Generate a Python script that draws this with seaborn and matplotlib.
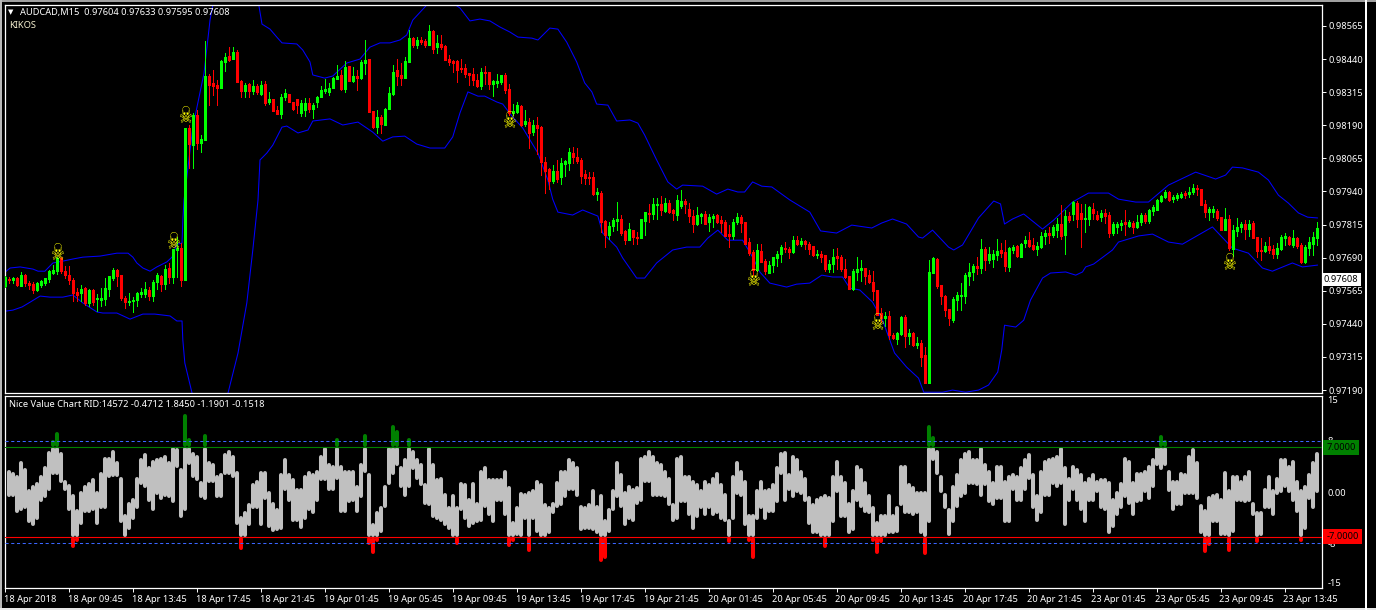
import numpy as np
import pandas as pd
import matplotlib
matplotlib.use('Agg')
import matplotlib.pyplot as plt
import matplotlib.transforms as mtrans
from matplotlib.font_manager import FontProperties
from matplotlib.patches import Rectangle
from matplotlib.path import Path
from matplotlib.textpath import TextPath
import seaborn as sns

# Prices are kept in points above 0.97000 (604 means 0.97604)
wick_high = [620,617,617,617,635,628,601,597,597,605,
613,643,662,692,692,658,658,613,575,586,
579,571,571,553,575,613,620,651,647,624,
545,557,541,560,575,597,579,605,632,624,
662,670,723,768,745,1180,1191,1236,1248,1153,
1508,1384,1399,1361,1436,1463,1485,1485,1474,1361,
1350,1350,1361,1346,1357,1357,1316,1289,1263,1308,
1327,1308,1278,1289,1285,1293,1293,1274,1300,1338,
1365,1350,1372,1418,1399,1433,1414,1410,1399,1436,
1512,1440,1244,1248,1229,1255,1334,1418,1440,1425,
1448,1550,1523,1523,1523,1516,1569,1550,1531,1531,
1493,1455,1436,1436,1440,1421,1387,1406,1384,1406,
1414,1391,1361,1384,1380,1387,1346,1270,1278,1266,
1248,1217,1210,1221,1187,1070,1029,1040,1059,1066,
1059,1104,1108,1104,1066,1021,1013,1013,953,942,
832,825,840,900,851,794,821,794,787,836,
862,893,915,915,923,915,908,874,926,945,
911,896,870,881,858,866,855,855,855,847,
832,813,836,858,851,825,764,719,741,741,
685,677,692,715,738,749,730,772,772,764,
756,749,734,719,715,700,681,723,726,700,
685,620,647,692,681,651,643,639,568,500,
485,488,405,409,470,473,420,409,390,379,
353,681,692,689,586,549,496,541,560,594,
632,670,666,692,760,730,730,719,760,745,
756,730,738,738,745,772,787,764,749,787,
794,806,813,840,889,870,862,904,904,893,
893,885,896,866,870,874,862,825,825,832,
870,832,828,851,858,858,874,889,911,926,
945,942,926,934,938,942,957,968,964,949,
908,881,885,874,843,877,851,813,840,825,
832,832,828,768,764,749,768,738,745,775,
783,772,794,768,745,738,768,787,825]

body_top = [617,609,613,613,624,624,594,590,594,601,
613,639,643,689,689,639,624,605,560,571,
575,568,568,537,537,575,620,643,643,624,
537,526,530,557,560,571,568,597,624,620,
647,651,723,726,726,1180,1180,1229,1229,1138,
1376,1376,1350,1342,1433,1448,1451,1467,1467,1357,
1342,1346,1338,1338,1342,1346,1289,1289,1248,1297,
1312,1308,1278,1289,1274,1274,1274,1266,1297,1323,
1327,1331,1368,1376,1380,1410,1414,1376,1376,1429,
1436,1440,1244,1221,1221,1251,1312,1391,1399,1380,
1433,1520,1520,1512,1512,1508,1546,1546,1501,1497,
1489,1440,1433,1433,1406,1406,1387,1384,1361,1391,
1391,1391,1357,1357,1380,1380,1327,1244,1266,1263,
1206,1202,1191,1191,1183,1051,1025,1017,1017,1047,
1055,1089,1085,1070,1059,1006,994,994,938,934,
828,809,832,836,836,790,798,794,768,836,
862,858,893,893,893,896,896,870,908,904,
904,874,847,851,855,855,843,847,851,832,
825,779,825,843,843,825,749,711,719,715,
677,662,692,704,730,726,723,756,756,753,
753,741,734,704,704,700,666,692,696,692,
647,620,639,647,651,651,624,597,568,481,
470,470,398,405,466,466,405,405,368,368,
322,636,689,685,586,545,496,534,549,549,
624,636,658,658,723,723,704,704,715,719,
711,726,730,734,741,756,756,738,734,772,
783,783,806,817,817,847,847,900,896,858,
840,881,874,851,858,858,851,817,817,821,
825,825,821,825,851,851,870,881,908,923,
938,938,919,926,930,934,938,953,953,949,
893,874,874,866,843,836,836,794,806,817,
817,817,821,768,719,734,734,723,726,768,
772,768,764,764,738,730,749,768,802]

body_bottom = [582,605,605,586,582,594,586,568,568,586,
594,609,632,639,639,624,605,557,549,557,
519,519,522,534,530,534,571,613,620,537,
522,522,526,530,553,553,545,545,597,590,
590,617,617,719,605,605,1119,1115,1123,1123,
1134,1342,1338,1331,1331,1429,1436,1440,1353,1319,
1319,1319,1319,1316,1308,1274,1278,1244,1232,1232,
1297,1278,1251,1266,1236,1248,1251,1251,1278,1297,
1319,1316,1331,1365,1327,1327,1357,1357,1368,1368,
1425,1240,1183,1183,1195,1191,1251,1308,1376,1368,
1368,1429,1493,1493,1504,1493,1493,1478,1485,1485,
1436,1429,1425,1399,1402,1384,1380,1361,1338,1338,
1387,1346,1346,1350,1353,1323,1236,1236,1240,1191,
1195,1161,1165,1180,1051,1017,979,979,987,994,
1044,1047,1070,1055,998,991,991,930,930,825,
775,775,809,828,783,756,756,768,764,764,
828,855,855,889,870,866,862,858,851,885,
893,847,817,817,847,817,825,840,825,821,
772,772,772,825,821,741,707,643,643,674,
639,632,662,689,704,723,711,711,741,741,
741,723,700,700,692,647,647,666,689,647,
617,571,571,635,643,620,597,564,473,462,
462,398,387,383,402,394,394,360,360,315,
216,216,632,582,545,492,462,454,530,545,
545,620,636,651,651,681,681,685,700,707,
658,655,719,696,692,745,734,723,723,730,
772,775,775,794,772,775,832,855,836,836,
836,836,858,836,843,847,783,783,806,813,
817,809,806,806,825,828,828,866,870,904,
919,908,911,915,919,926,930,938,949,889,
862,862,862,840,794,794,726,723,790,806,
798,798,764,715,715,715,719,704,704,723,
764,741,738,734,674,674,726,741,764]

wick_low = [579,594,594,582,582,582,571,557,564,579,
586,597,628,628,632,613,590,526,526,526,
511,507,511,488,507,511,545,605,582,530,
500,511,485,507,541,541,530,526,571,564,
571,594,594,617,582,605,1029,1029,1100,1089,
1134,1266,1304,1266,1331,1395,1433,1440,1353,1297,
1297,1297,1308,1308,1304,1266,1270,1244,1232,1217,
1285,1278,1248,1236,1225,1225,1240,1217,1259,1297,
1312,1304,1331,1365,1323,1316,1357,1353,1323,1365,
1384,1240,1180,1161,1161,1191,1251,1304,1342,1342,
1368,1429,1485,1482,1497,1485,1493,1463,1463,1478,
1436,1418,1391,1353,1391,1372,1342,1342,1334,1327,
1346,1327,1300,1334,1346,1312,1229,1229,1236,1187,
1187,1104,1153,1081,1002,934,949,972,976,968,
998,1021,1047,1047,972,968,968,926,908,787,
730,760,790,794,775,741,756,741,741,764,
775,825,836,836,851,862,858,832,832,877,
858,825,787,813,821,817,790,806,821,787,
772,730,760,817,787,741,700,624,639,674,
628,632,635,658,674,711,689,707,738,734,
723,704,696,689,674,639,635,635,647,639,
613,571,568,605,601,590,594,530,473,447,
432,383,383,364,398,353,364,356,349,281,
216,216,632,575,515,470,436,447,492,492,
519,586,605,628,632,643,670,655,681,692,
639,639,707,692,692,730,730,719,700,726,
741,745,768,768,760,704,825,832,806,730,
787,813,836,832,828,821,768,775,783,794,
775,806,783,802,813,821,821,851,870,900,
915,904,900,908,915,915,919,930,926,889,
843,832,843,832,794,794,719,696,772,787,
760,772,764,692,681,711,707,689,689,719,
738,738,730,726,670,670,700,700,738]

# G = bullish candle, R = bearish candle
candle_dir = ("GRGRGRRRGG" "GGGGRRRRRG" "RGRGGGGGRR" "RGGGGGRGGR"
              "GRGGRGRGRG" "GRRRGGRGRR" "GRGRGRGRRG" "GRRRGGRGGG"
              "GGGGRGRGRG" "GRRGRGGGRR" "GGRGRRGRGR" "RRRRRRRRRG"
              "RRGGGRRGGR" "GRGRRRRGRG" "GGRRRRRRGR" "RGGGRRGRRG"
              "GRGGRGRRGG" "RRRGGRGGRR" "RRGGRRRRGR" "RGGGGRRGRG"
              "RRRGRRGGRR" "RRGGGRRRRR" "GRRGGRGRGR" "RGGRRRRGGG"
              "GGGRGRGGGR" "RGGRGGRRGG" "GRGGRGRGRR" "GGRRGRRGGG"
              "RGRGGRGGGG" "GRGGGRGGRR" "RGGRRGRGGG" "RGRRRGRRGG"
              "GRGRRGGGG")

upper_bar = [0,1.2,3.7,6.9,8.2,9.9,11.9,14.4,16.9,19.4,23.7,27.9,30.7,31.9,32.9,34.4,36.2,37.9,40.4,41.7,
42.9,44.2,44.4,44.7,45.7,46.9,49.7,51.2,51.9,57.7,63.4,64.2,66.2,67.9,69.2,72.9,74.4,76.2,76.9,79.9,
81.9,85.4,88.7,91.2,93.7,96.2,98.7,100.4,101.9,105.4,109.9,113.7,116.2,118.7,121.2,123.7,126.2,128.2,131.7,133.2,
136.2,138.2,140.4,142.9,144.9,146.7,147.9,150.7,152.9,156.2,158.2,159.9,162.9,165.7,167.9,169.4,174.4,177.9,180.7,183.2,
184.9,186.9,189.2,191.7,196.2,201.2,203.9,207.9,211.7,216.7,219.2,221.9,225.4,228.4,229.4,231.9,235.9,237.2,239.4,243.4,
247.2,248.9,249.9,251.9,254.7,259.4,262.2,266.9,270.9,275.9,278.4,282.7,285.9,290.9,297.7,302.7,305.2,306.9,309.4,313.4,
315.9,318.4,320.9,323.4,325.7,328.2]
upper_band = [636,651,655,647,639,639,670,677,685,692,696,707,707,692,670,651,639,655,674,692,
741,745,832,908,1032,1183,1387,1587,1644,1814,1644,1572,1553,1523,1501,1497,1474,1429,1380,1368,
1376,1425,1440,1485,1501,1501,1512,1531,1587,1644,1671,1633,1584,1591,1584,1561,1542,1523,1519,1512,
1557,1553,1504,1429,1350,1316,1270,1266,1206,1210,1198,1153,1059,976,949,964,960,930,949,938,
938,976,960,957,908,862,791,783,813,802,821,836,817,768,764,794,730,719,738,840,
904,893,817,836,855,798,832,900,934,934,911,900,900,964,1013,987,1002,1032,1029,1013,
983,926,896,859,843,840]

lower_bar = [0,1.9,4.2,6.2,8.7,11.2,14.4,16.9,19.4,22.9,24.4,27.9,31.2,34.4,37.4,41.2,42.9,44.2,44.4,44.9,
46.7,51.2,55.7,58.2,60.4,61.9,63.2,63.7,65.4,66.9,69.2,70.4,73.2,75.7,76.9,81.2,84.4,88.2,91.9,94.4,
96.9,99.9,102.9,106.2,109.9,111.9,113.7,115.7,118.2,119.9,122.9,124.4,126.9,129.4,133.2,135.7,136.9,138.2,141.9,144.4,
148.2,149.4,152.9,154.4,157.9,159.9,162.9,166.9,170.4,173.7,175.7,178.2,180.7,184.4,186.9,188.7,191.2,195.4,197.9,201.2,
204.2,206.9,209.4,211.2,213.7,216.9,219.4,222.4,225.4,228.4,229.7,234.4,236.9,240.2,243.4,245.9,248.2,249.2,249.9,252.7,
254.7,256.4,259.4,261.4,265.2,267.7,269.4,270.2,272.2,276.9,278.4,283.4,286.9,290.9,294.4,301.9,306.9,310.9,314.4,316.9,
321.9,324.4,328.2]
lower_band = [488,492,504,522,545,541,541,549,519,485,481,481,458,477,477,470,451,451,379,292,
179,77,179,330,519,719,908,1059,1085,1115,1183,1187,1161,1172,1206,1214,1191,1202,1164,1130,
1146,1149,1119,1104,1104,1146,1236,1316,1300,1300,1278,1270,1221,1180,1085,983,911,862,851,870,
847,783,730,689,613,613,670,719,730,730,764,794,756,756,692,636,594,579,590,594,
624,617,617,575,568,522,454,330,277,235,182,182,190,182,190,209,258,341,435,428,
454,530,613,632,636,624,636,655,666,719,749,772,779,749,741,806,726,707,651,639,
670,655,662]

skull_bar = [13,42,45,126,187,218,306]
skull_price = [715,756,1232,1214,617,451,677]

# Nice Value Chart, starts at bar 1
value_high = [3.5,3.1,2.7,4.9,3.7,0.4,1.1,1.6,2.7,4.0,
6.4,8.1,9.3,6.2,1.8,1.2,-0.4,-2.7,0.1,1.1,
1.6,2.2,0.1,3.1,5.5,5.5,6.6,4.9,2.4,-3.5,
-1.5,-0.9,2.4,5.3,6.1,4.0,5.0,5.3,5.5,5.8,
4.8,7.4,6.8,3.7,12.1,8.5,6.3,5.8,1.7,9.0,
4.8,4.5,2.7,3.0,6.1,6.6,5.8,3.2,-3.8,-3.0,
-1.7,1.4,1.9,3.2,3.2,0.1,-1.5,-2.5,3.0,5.3,
3.0,2.2,0.6,0.6,2.7,3.2,3.0,3.5,5.8,7.0,
4.5,4.2,8.4,4.2,3.5,3.5,3.5,1.1,4.5,9.0,
3.0,-4.8,-3.0,-2.2,1.1,7.6,10.5,9.7,4.0,5.3,
8.5,6.6,5.3,4.5,1.4,7.4,4.5,2.2,2.4,-0.2,
-2.2,-0.4,-2.2,
1.6,1.4,-0.9,1.6,-1.5,3.5,4.0,2.2,2.2,2.2,2.2,3.5,0.9,-4.6,-2.2,0,
-0.2,0.1,0.4,1.9,1.4,-1.7,-2.2,-1.5,1.7,3.5,3.5,5.3,4.8,4.0,-2.0,-2.2,
-1.7,0.4,-2.0,-0.4,-4.3,-2.5,0.4,4.8,3.0,0.1,1.1,0.6,0.9,5.5,5.8,6.6,
5.8,4.8,4.5,3.5,2.4,-1.7,5.5,5.8,2.7,2.7,1.9,1.4,0.4,1.9,1.4,2.4,
3.1,1.4,-0.2,-4.3,2.7,4.8,3.5,1.9,-3.5,-3.5,0.4,1.9,0.4,0.6,1.4,4.0,
6.2,6.4,3.0,5.8,5.3,3.5,2.4,-0.7,-1.7,-0.9,-0.7,-0.4,-0.7,2.7,5.0,2.7,
1.7,-1.5,0.4,4.2,3.7,1.7,-0.4,-2.2,-4.6,-3.5,-3.5,-0.4,-3.5,-2.2,4.2,4.2,
1.4,0.9,0.1,
0.1,0.1,10.4,8.7,6.6,2.7,-0.2,-2.5,1.1,3.0,5.3,6.3,6.6,5.3,5.3,7.4,
4.5,3.5,1.7,4.2,4.2,1.9,2.7,3.0,2.7,4.0,5.3,6.1,3.0,-0.4,3.5,5.0,
5.3,5.5,5.8,7.4,4.0,2.4,4.2,3.7,3.0,1.7,2.4,3.0,1.9,2.2,2.2,1.7,
-0.9,0.1,1.6,5.5,5.0,1.7,3.1,3.1,3.5,4.2,5.3,7.6,8.9,8.1,3.5,1.9,
1.9,3.1,3.0,5.8,6.8,4.8,-1.9,-2.7,-0.7,-0.4,-0.2,-0.9,3.2,0.4,2.7,2.7,
1.9,2.7,3.5,-1.5,-3.0,-3.0,0.6,2.7,0.4,2.4,5.3,5.3,4.2,5.0,1.9,0.4,
1.1,3.0,4.8,6.2]

value_low = [-0.7,-0.7,-3.3,-3.0,-2.7,-4.8,-5.3,-4.3,-1.5,-0.9,
0.1,2.7,2.7,1.4,0.1,-3.0,-8.7,-7.8,-5.1,-3.3,
-3.3,-3.0,-5.1,-2.7,-2.7,2.2,2.4,2.4,-4.8,-7.7,
-5.9,-4.3,-2.7,1.1,0.6,-1.5,-3.0,-0.4,-1.2,-0.7,
-0.9,-1.7,3.7,-4.0,-3.0,4.2,2.2,1.7,-0.9,-1.2,
1.4,1.4,-0.9,-0.9,2.7,2.7,2.2,-5.1,-9.0,-7.5,
-5.3,-2.7,-2.7,-5.3,-1.2,-5.6,-6.2,-6.1,-5.9,0.1,
-1.5,-4.6,-4.6,-5.8,-4.3,-3.0,-3.5,-1.5,1.7,1.7,
0.1,0.1,1.9,-3.3,-3.3,-1.7,-1.5,-3.3,-0.9,3.0,
-8.2,-9.6,-7.8,-6.4,-2.5,1.1,2.7,4.0,0.6,-0.7,
0.6,3.5,1.9,0.9,-2.0,-2.2,-4.0,-4.3,-4.6,-5.3,
-5.9,-7.5,-8.3,
-3.0,-4.3,-5.6,-5.1,-4.8,-4.6,-2.5,-3.8,-4.8,-1.5,-1.5,-3.8,-8.6,-7.8,-6.9,-7.1,
-4.3,-9.3,-4.3,-6.4,-7.7,-7.7,-6.6,-3.5,-2.5,-2.2,-0.9,0.1,0.1,-0.7,-6.1,-5.9,
-5.9,-6.1,-6.6,-10.9,-10.4,-6.4,-3.0,-0.9,-2.5,-5.3,-4.3,-4.6,-2.0,-1.5,1.4,1.4,
-0.7,-0.7,-0.7,-0.9,-2.2,-4.6,-4.3,-1.7,-1.7,-3.8,-5.9,-4.0,-2.7,-3.8,-2.7,-3.8,
-3.5,-4.3,-4.6,-7.9,-4.3,-0.4,-0.7,-5.3,-7.8,-10.5,-4.3,-2.7,-4.3,-3.3,-3.3,-1.7,
2.7,-1.5,0.1,-0.9,-0.2,-0.4,-1.5,-5.1,-6.6,-6.6,-7.5,-8.7,-7.5,-4.8,-0.2,-4.0,
-4.0,-6.6,-6.1,-1.5,-2.5,-3.3,-3.5,-7.8,-9.7,-7.9,-7.5,-6.6,-6.6,-6.4,-2.2,-3.5,
-3.5,-3.8,-3.5,
-6.6,-9.8,-4.8,4.8,2.7,-0.2,-2.7,-6.9,-4.8,-2.5,-0.9,-0.4,1.1,1.1,0.9,-0.7,
0.9,-1.7,-2.2,-1.2,-1.2,-4.8,-4.8,0.1,-1.5,-1.5,0.1,1.9,-2.7,-4.6,-3.5,-0.7,
-0.7,1.1,0.6,1.1,-5.3,-1.5,0.1,-1.5,-3.0,-4.8,-1.5,-1.5,-0.2,-2.7,-3.0,-6.6,
-5.6,-3.8,-2.7,-0.9,-2.0,-3.8,-1.7,-1.5,-0.2,-1.3,0.6,4.0,3.5,4.0,0,-3.0,
-2.2,-2.2,-0.4,-0.4,-0.4,-1.3,-6.6,-9.5,-8.4,-4.8,-4.8,-6.9,-6.9,-9.3,-6.4,-1.5,
-1.5,-1.7,-1.5,-3.8,-7.9,-6.9,-2.7,-2.7,-3.8,-0.4,-0.2,0.6,-0.2,-1.5,-3.3,-7.8,
-5.9,-1.2,-2.7,-0.2]

price_ticks = [0.98565,0.98440,0.98315,0.98190,0.98065,0.97940,0.97815,0.97690,0.97565,0.97440,0.97315,0.97190]
time_labels = ["18 Apr 2018","18 Apr 09:45","18 Apr 13:45","18 Apr 17:45","18 Apr 21:45",
               "19 Apr 01:45","19 Apr 05:45","19 Apr 09:45","19 Apr 13:45","19 Apr 17:45","19 Apr 21:45",
               "20 Apr 01:45","20 Apr 05:45","20 Apr 09:45","20 Apr 13:45","20 Apr 17:45","20 Apr 21:45",
               "23 Apr 01:45","23 Apr 05:45","23 Apr 09:45","23 Apr 13:45"]

W, H = 1376, 610
BASE = 0.97
sns.set_theme(style="dark")
plt.rcParams['font.family'] = ['Noto Sans', 'DejaVu Sans']
FS = 6.7


def px_axes(left, top, right, bottom):
    a = fig.add_axes([left / W, 1 - bottom / H, (right - left) / W, (bottom - top) / H])
    a.set_facecolor('black')
    for s in a.spines.values():
        s.set_color('white')
        s.set_linewidth(0.9)
    a.set_xlim(-0.2, 329.3)
    a.grid(False)
    return a


def value_bars(a, x, y0, y1, col):
    # round ends add about 0.3 units, so pull the segment ends in by that much
    lo_end = y0 + 0.3
    hi_end = y1 - 0.3
    mid = (y0 + y1) / 2
    lo_end, hi_end = np.where(lo_end > hi_end, mid, lo_end), np.where(lo_end > hi_end, mid, hi_end)
    a.vlines(x, lo_end, hi_end, color=col, lw=2.9, capstyle='round', zorder=2)


fig = plt.figure(figsize=(W / 100, H / 100), dpi=100, facecolor='black')

# window chrome around the chart
for x0, y0, w, h, c in [(0, 0, W, 2, '#a0a0a0'), (0, 0, 2, H, '#b8b8b8'), (0, 608, W, 2, '#e8e8e8')]:
    fig.add_artist(Rectangle((x0 / W, 1 - (y0 + h) / H), w / W, h / H, transform=fig.transFigure, color=c, lw=0))
fig.add_artist(Rectangle((1365 / W, 0), 1.5 / W, 1, transform=fig.transFigure, color='white', lw=0))

# ---- price panel
ax = px_axes(4.5, 4.5, 1322, 393)
bars = np.arange(len(wick_high))
up = np.array([d == 'G' for d in candle_dir])
hi = BASE + np.array(wick_high) / 1e5
lo = BASE + np.array(wick_low) / 1e5
top = BASE + np.array(body_top) / 1e5
bot = BASE + np.array(body_bottom) / 1e5
for mask, col in [(up, '#00ff00'), (~up, '#ff0000')]:
    ax.vlines(bars[mask], lo[mask], hi[mask], color=col, lw=0.7, antialiased=False, zorder=3)
    ax.vlines(bars[mask], bot[mask], top[mask], color=col, lw=1.8, antialiased=False, zorder=3)

bands = pd.DataFrame({'bar': upper_bar, 'price': BASE + np.array(upper_band) / 1e5})
sns.lineplot(data=bands, x='bar', y='price', ax=ax, sort=False, estimator=None, color='#0000ff', lw=0.75, zorder=2)
bands = pd.DataFrame({'bar': lower_bar, 'price': BASE + np.array(lower_band) / 1e5})
sns.lineplot(data=bands, x='bar', y='price', ax=ax, sort=False, estimator=None, color='#0000ff', lw=0.75, zorder=2)

# skull and crossbones, stretched upright like the terminal's icon
glyph = TextPath((0, 0), '\u2620', size=1, prop=FontProperties(family='DejaVu Sans'))
gv = glyph.vertices - (glyph.vertices.max(axis=0) + glyph.vertices.min(axis=0)) / 2
skull_marker = Path(gv * [1.0, 1.55], glyph.codes)
ax.scatter(skull_bar, BASE + np.array(skull_price) / 1e5, marker=skull_marker, s=150, color='#ffff00', linewidths=0, zorder=5)

ax.set_ylim(BASE + 179 / 1e5, BASE + 1646 / 1e5)
ax.set_xlabel('')
ax.set_ylabel('')
ax.set_xticks([])
ax.yaxis.tick_right()
ax.set_yticks(price_ticks, [f'{t:.5f}' for t in price_ticks])
ax.tick_params(axis='y', colors='white', labelsize=FS, length=3, width=0.7, pad=2, right=True)
ax.text(1.0015, 0.97608, '0.97608', transform=ax.get_yaxis_transform(), color='black', fontsize=FS, va='center', ha='left',
        bbox=dict(facecolor='white', edgecolor='none', boxstyle='square,pad=0.25'), zorder=6, clip_on=False)

fig.text(20 / W, 1 - 12.5 / H, 'AUDCAD,M15  0.97604 0.97633 0.97595 0.97608', color='white', fontsize=FS, va='center')
fig.text(8 / W, 1 - 12.5 / H, '\u25bc', color='white', fontsize=5, va='center', family='DejaVu Sans')
fig.text(9 / W, 1 - 25.5 / H, 'KIKOS', color='#f5f0d0', fontsize=FS, va='center')

# ---- value chart panel
ax2 = px_axes(4.5, 396, 1322, 588)
vbars = np.arange(1, len(value_high) + 1)
vh = np.array(value_high)
vl = np.array(value_low)
value_bars(ax2, vbars, np.clip(vl, -7, 7), np.clip(vh, -7, 7), '#c0c0c0')
m = vh > 7
value_bars(ax2, vbars[m], np.full(m.sum(), 7.0), vh[m], '#008000')
m = vl < -7
value_bars(ax2, vbars[m], vl[m], np.full(m.sum(), -7.0), '#ff0000')

ax2.axhline(7, color='#008000', lw=0.8, zorder=3)
ax2.axhline(-7, color='#ff0000', lw=0.8, zorder=3)
for lvl in (8, -8):
    ax2.axhline(lvl, color='#3a66ff', lw=0.75, dashes=(3, 2.5), zorder=3)

ax2.set_ylim(-15, 15)
ax2.yaxis.tick_right()
ax2.set_yticks([15, 8, 0, -8, -15], ['15', '8', '0.00', '-8', '-15'])
ax2.tick_params(axis='y', colors='white', labelsize=FS, length=0, pad=4)
ticks_y = ax2.get_yticklabels()
ticks_y[0].set_va('top')
ticks_y[-1].set_va('bottom')

ax2.set_xticks(np.arange(len(time_labels)) * 16)
ax2.set_xticklabels(time_labels, ha='left')
ax2.tick_params(axis='x', colors='white', labelsize=FS, length=3, width=0.7, pad=2, bottom=True)
shift = mtrans.ScaledTranslation(-1.5 / 100, 0, fig.dpi_scale_trans)
for lab in ax2.get_xticklabels():
    lab.set_transform(lab.get_transform() + shift)

tr = ax2.get_yaxis_transform()
ax2.text(1.0032, 7, '7.0000', transform=tr, color='black', fontsize=FS, va='center', ha='left', zorder=6, clip_on=False,
         bbox=dict(facecolor='#008000', edgecolor='none', boxstyle='square,pad=0.32'))
ax2.text(1.0032, -7, '-7.0000', transform=tr, color='black', fontsize=FS, va='center', ha='left', zorder=6, clip_on=False,
         bbox=dict(facecolor='#ff0000', edgecolor='none', boxstyle='square,pad=0.32'))

fig.text(9 / W, 1 - 404.5 / H, 'Nice Value Chart RID:14572 -0.4712 1.8450 -1.1901 -0.1518', color='white', fontsize=FS, va='center')

fig.savefig('out.png', dpi=100, facecolor='black')
